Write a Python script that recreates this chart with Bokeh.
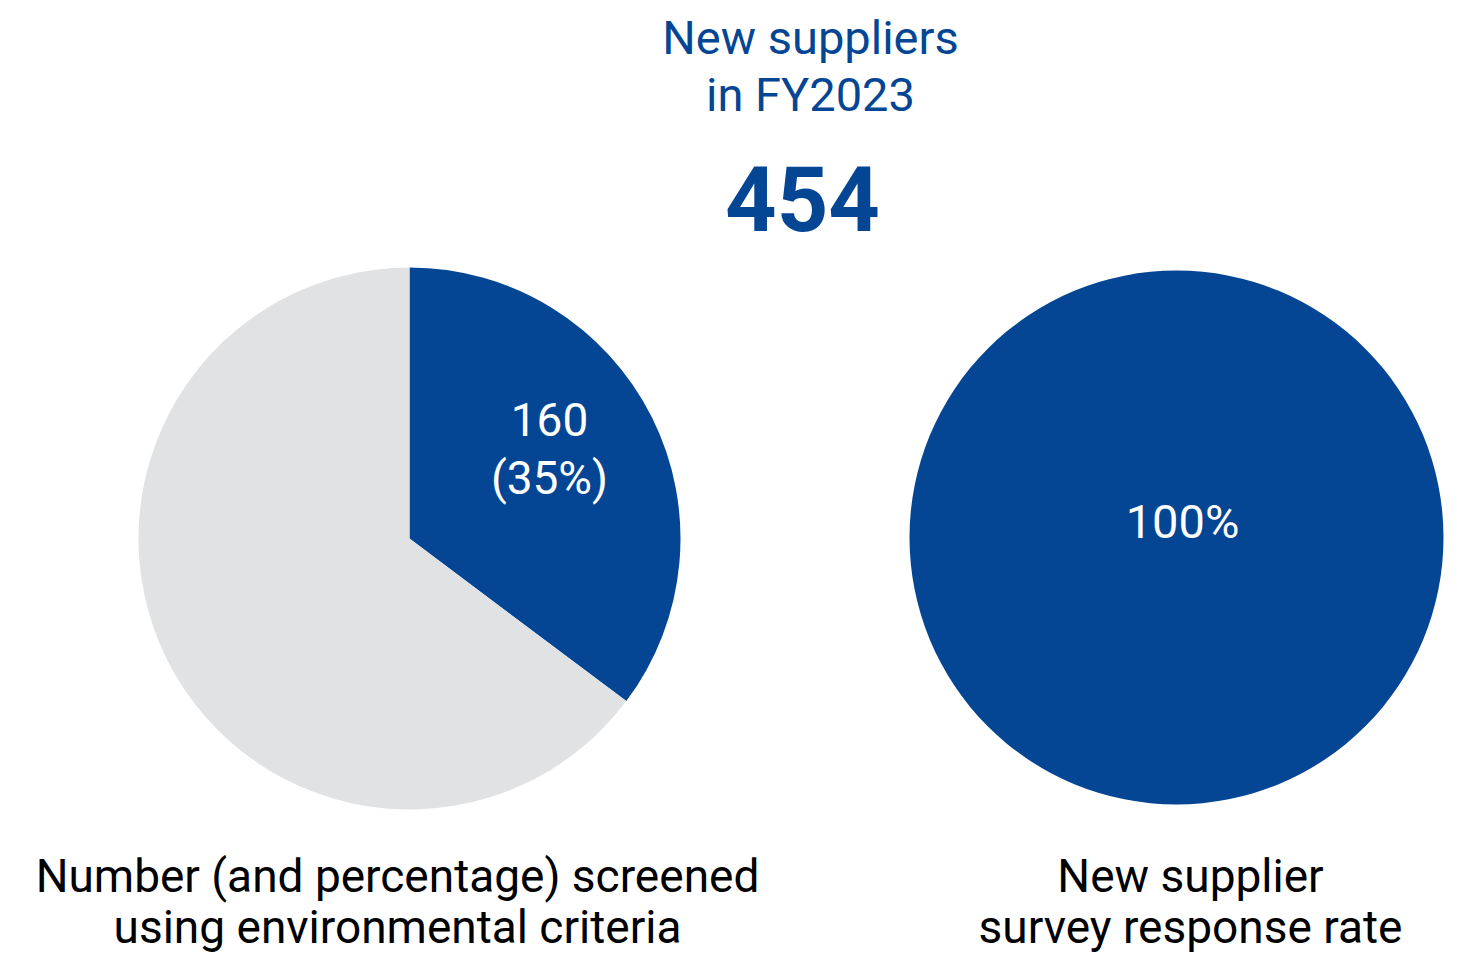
from math import pi
from bokeh.plotting import figure
from bokeh.models import Range1d
from bokeh.core.properties import value
from bokeh.embed import file_html
from bokeh.resources import INLINE

# ---- data ----
total_new_suppliers = 454
screened = 160
segments_left = ["Screened", "Not screened"]
values_left = [screened, total_new_suppliers - screened]
response_rate = [100]
title_lines = ["New suppliers", "in FY2023"]
label_left = ["Number (and percentage) screened", "using environmental criteria"]
label_right = ["New supplier", "survey response rate"]

BLUE = "#044694"
GREY = "#E1E2E4"
FONT = "Roboto"

W, H = 1445, 954
TOP = 970
p = figure(width=W, height=H, output_backend="svg", toolbar_location=None,
           x_range=Range1d(0, W), y_range=Range1d(TOP - H, TOP),
           min_border=0)
p.axis.visible = False
p.grid.visible = False
p.outline_line_color = None
p.background_fill_color = "white"

def Y(y):
    return TOP - y

# left pie: start at top, clockwise
tot = sum(values_left)
start = pi / 2
cx, cy, r = 409, Y(538), 271
colors = [BLUE, GREY]
for v, c in zip(values_left, colors):
    sweep = 2 * pi * v / tot
    p.wedge(x=cx, y=cy, radius=r, start_angle=start - sweep, end_angle=start,
            fill_color=c, line_color=None)
    start -= sweep

# right pie
frac = response_rate[0] / 100
rcx, rcy, rr = 1176, Y(537), 267
if frac >= 1:
    p.circle(x=rcx, y=rcy, radius=rr, fill_color=BLUE, line_color=None)
else:
    p.wedge(x=rcx, y=rcy, radius=rr, start_angle=pi/2 - 2*pi*frac, end_angle=pi/2,
            fill_color=BLUE, line_color=None)

def txt(x, y, s, size, color, style="normal"):
    # y is the intended baseline in picture pixels; correct for renderer offset
    yy = y - 0.39 * size
    p.text(x=[x], y=[Y(yy)], text=[s], text_font=value(FONT), text_font_size=f"{size}px",
           text_color=color, text_align="center", text_baseline="alphabetic",
           text_font_style=style)

txt(810, 55, title_lines[0], 47, BLUE)
txt(810, 112, title_lines[1], 47, BLUE)
txt(802, 233, str(total_new_suppliers), 90, BLUE, "bold")
pct = round(100 * screened / total_new_suppliers)
txt(549, 437, str(screened), 46, "white")
txt(549, 495, f"({pct}%)", 46, "white")
txt(1182, 539, f"{response_rate[0]}%", 47, "white")

txt(397, 893, label_left[0], 46, "black")
txt(397, 944, label_left[1], 46, "black")
txt(1190, 893, label_right[0], 46, "black")
txt(1190, 944, label_right[1], 46, "black")

open("out.html", "w").write(file_html(p, INLINE))
